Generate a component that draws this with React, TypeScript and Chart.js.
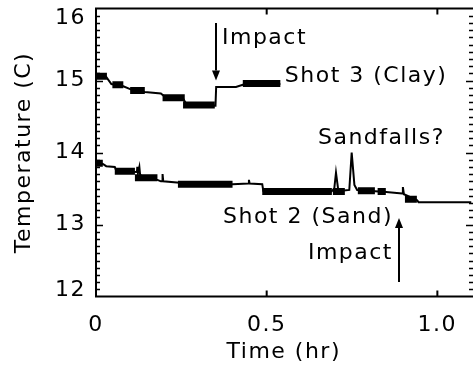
import { useEffect, useRef } from 'react';
import { Chart, registerables } from 'chart.js';

Chart.register(...registerables);

const FONT = '"DejaVu Sans", sans-serif';

// Axis ranges and tick labels
const timeMin = 0;
const timeMax = 1.1;
const tempMin = 12;
const tempMax = 16;
const timeTicks = [0, 0.5, 1.0];
const timeTickLabels = ['0', '0.5', '1.0'];
const tempTicks = [12, 13, 14, 15, 16];
const tempTickLabels = ['12', '13', '14', '15', '16'];
const tempMinorStep = 0.1;

// Shot 3 (Clay): logged temperature trace
const clayTime = [0, 0.03, 0.045, 0.08, 0.1, 0.143, 0.19, 0.2, 0.255, 0.265, 0.35, 0.352, 0.41, 0.43, 0.54];
const clayTemp = [15.07, 15.05, 14.95, 14.92, 14.88, 14.84, 14.82, 14.78, 14.75, 14.67, 14.65, 14.91, 14.91, 14.94, 14.95];
// Shot 3 (Clay): stretches where the reading flickers around a level
const clayBandStart = [0, 0.048, 0.1, 0.195, 0.255, 0.43];
const clayBandEnd = [0.032, 0.08, 0.143, 0.26, 0.348, 0.54];
const clayBandTemp = [15.06, 14.94, 14.86, 14.76, 14.66, 14.96];

// Shot 2 (Sand): logged temperature trace
const sandTime = [
  0, 0.02, 0.03, 0.055, 0.06, 0.12, 0.121, 0.123, 0.127, 0.129, 0.135, 0.18, 0.19, 0.194, 0.195, 0.197,
  0.245, 0.4, 0.447, 0.448, 0.45, 0.487, 0.49, 0.69, 0.698, 0.703, 0.709, 0.72, 0.742, 0.749, 0.757,
  0.765, 0.85, 0.897, 0.899, 0.902, 0.94, 0.945, 1.1,
];
const sandTemp = [
  13.86, 13.84, 13.81, 13.8, 13.74, 13.73, 13.8, 13.72, 13.8, 13.7, 13.65, 13.62, 13.6, 13.6, 13.7, 13.6,
  13.58, 13.56, 13.57, 13.62, 13.57, 13.56, 13.47, 13.46, 13.5, 13.72, 13.5, 13.47, 13.48, 14.0, 13.55,
  13.48, 13.45, 13.43, 13.52, 13.42, 13.34, 13.31, 13.31,
];
// Shot 2 (Sand): stretches where the reading flickers around a level
const sandBandStart = [0, 0.055, 0.114, 0.24, 0.487, 0.694, 0.767, 0.825, 0.905];
const sandBandEnd = [0.02, 0.114, 0.18, 0.4, 0.691, 0.729, 0.817, 0.849, 0.94];
const sandBandTemp = [13.85, 13.74, 13.65, 13.56, 13.46, 13.46, 13.47, 13.46, 13.35];

// Impact times and arrow spans (hr, °C)
const clayImpact = { t: 0.351, from: 15.8, to: 15.0 };
const sandImpact = { t: 0.888, from: 12.2, to: 13.09 };

// Text notes placed in data coordinates
const notes = [
  { text: 'Impact', t: 0.369, temp: 15.59, align: 'left' },
  { text: 'Shot 3 (Clay)', t: 0.553, temp: 15.06, align: 'left' },
  { text: 'Sandfalls?', t: 1.022, temp: 14.2, align: 'right' },
  { text: 'Shot 2 (Sand)', t: 0.87, temp: 13.1, align: 'right' },
  { text: 'Impact', t: 0.87, temp: 12.6, align: 'right' },
];

const xTitle = 'Time (hr)';
const yTitle = 'Temperature (C)';

const toPoints = (xs: number[], ys: number[]) => xs.map((x, i) => ({ x, y: ys[i] }));

const toBands = (starts: number[], ends: number[], levels: number[]) => {
  const pts: { x: number; y: number | null }[] = [];
  starts.forEach((s, i) => {
    pts.push({ x: s, y: levels[i] }, { x: ends[i], y: levels[i] }, { x: ends[i], y: null });
  });
  return pts;
};

const drawArrow = (ctx: CanvasRenderingContext2D, x: number, y0: number, y1: number) => {
  const dir = y1 > y0 ? 1 : -1;
  const head = 10;
  ctx.beginPath();
  ctx.moveTo(x, y0);
  ctx.lineTo(x, y1 - dir * head);
  ctx.stroke();
  ctx.beginPath();
  ctx.moveTo(x, y1);
  ctx.lineTo(x - 4, y1 - dir * head);
  ctx.lineTo(x + 4, y1 - dir * head);
  ctx.closePath();
  ctx.fill();
};

const framePlugin = {
  id: 'frame',
  afterDraw(chart: any) {
    const { ctx, chartArea: a, scales } = chart;
    const xs = scales.x;
    const ys = scales.y;
    const W = chart.width;
    ctx.save();
    ctx.strokeStyle = '#000';
    ctx.fillStyle = '#000';
    ctx.lineCap = 'butt';
    ctx.lineWidth = 2;

    // frame lines: left, bottom, top
    ctx.beginPath();
    ctx.moveTo(a.left, a.top - 0.5);
    ctx.lineTo(a.left, a.bottom + 1);
    ctx.moveTo(a.left - 1, a.bottom);
    ctx.lineTo(W, a.bottom);
    ctx.moveTo(a.left - 1, a.top);
    ctx.lineTo(W, a.top);
    ctx.stroke();

    // y ticks, both sides
    const nMinor = Math.round((tempMax - tempMin) / tempMinorStep);
    for (let i = 1; i < nMinor; i++) {
      const v = tempMin + i * tempMinorStep;
      const py = Math.round(ys.getPixelForValue(v)) + 0.5;
      const major = tempTicks.some((t) => Math.abs(t - v) < 1e-6);
      const len = major ? 7 : 4;
      ctx.lineWidth = 1.6;
      ctx.beginPath();
      ctx.moveTo(a.left, py);
      ctx.lineTo(a.left + len, py);
      ctx.moveTo(a.right + 1.5, py);
      ctx.lineTo(a.right + 1.5 - len, py);
      ctx.stroke();
    }

    // x ticks, top and bottom
    ctx.lineWidth = 2;
    timeTicks.forEach((t) => {
      if (t === timeMin) return;
      const px = xs.getPixelForValue(t);
      ctx.beginPath();
      ctx.moveTo(px, a.bottom);
      ctx.lineTo(px, a.bottom - 6);
      ctx.moveTo(px, a.top);
      ctx.lineTo(px, a.top + 6);
      ctx.stroke();
    });

    // labels
    ctx.font = `22px ${FONT}`;
    (ctx as any).letterSpacing = '1.5px';
    ctx.textBaseline = 'middle';

    ctx.textAlign = 'right';
    tempTicks.forEach((v, i) => {
      const py = ys.getPixelForValue(v);
      const cy = Math.min(Math.max(py, a.top + 9.5), a.bottom - 6.5);
      ctx.fillText(tempTickLabels[i], 86, cy);
    });

    ctx.textAlign = 'center';
    timeTicks.forEach((t, i) => {
      ctx.fillText(timeTickLabels[i], xs.getPixelForValue(t), 325);
    });

    ctx.fillText(xTitle, (a.left + a.right) / 2, 352);
    ctx.save();
    ctx.translate(24, (a.top + a.bottom) / 2);
    ctx.rotate(-Math.PI / 2);
    ctx.fillText(yTitle, 0, 0);
    ctx.restore();

    // notes
    notes.forEach((n) => {
      ctx.textAlign = n.align as CanvasTextAlign;
      ctx.fillText(n.text, xs.getPixelForValue(n.t), ys.getPixelForValue(n.temp));
    });

    // impact arrows
    ctx.lineWidth = 2;
    [clayImpact, sandImpact].forEach((im) => {
      const px = Math.round(xs.getPixelForValue(im.t));
      drawArrow(ctx, px, ys.getPixelForValue(im.from), ys.getPixelForValue(im.to));
    });

    ctx.restore();
  },
};

export default function App() {
  const canvasRef = useRef<HTMLCanvasElement | null>(null);

  useEffect(() => {
    const canvas = canvasRef.current;
    if (!canvas) return;
    const traceStyle = {
      borderColor: '#000',
      pointRadius: 0,
      tension: 0,
      fill: false,
    };
    const chart = new Chart(canvas, {
      type: 'line',
      data: {
        datasets: [
          { ...traceStyle, label: 'Shot 3 (Clay)', data: toPoints(clayTime, clayTemp), borderWidth: 2 },
          {
            ...traceStyle,
            label: 'Shot 3 (Clay) flicker',
            data: toBands(clayBandStart, clayBandEnd, clayBandTemp),
            borderWidth: 7,
            borderCapStyle: 'butt',
            spanGaps: false,
          },
          { ...traceStyle, label: 'Shot 2 (Sand)', data: toPoints(sandTime, sandTemp), borderWidth: 2 },
          {
            ...traceStyle,
            label: 'Shot 2 (Sand) flicker',
            data: toBands(sandBandStart, sandBandEnd, sandBandTemp),
            borderWidth: 7,
            borderCapStyle: 'butt',
            spanGaps: false,
          },
        ] as any,
      },
      options: {
        animation: false,
        responsive: false,
        events: [],
        layout: { padding: { left: 0, right: 1.5, top: 8.5, bottom: 0 } },
        plugins: { legend: { display: false }, tooltip: { enabled: false } },
        scales: {
          x: {
            type: 'linear',
            min: timeMin,
            max: timeMax,
            grid: { display: false },
            border: { display: false },
            ticks: { display: false },
            afterFit: (s: any) => {
              s.height = 74.5;
              s.paddingLeft = 0;
              s.paddingRight = 0;
            },
          },
          y: {
            type: 'linear',
            min: tempMin,
            max: tempMax,
            grid: { display: false },
            border: { display: false },
            ticks: { display: false },
            afterFit: (s: any) => {
              s.width = 96;
              s.paddingTop = 0;
              s.paddingBottom = 0;
            },
          },
        },
      },
      plugins: [framePlugin],
    });
    return () => chart.destroy();
  }, []);

  return (
    <div style={{ position: 'absolute', left: 0, top: 0, width: 473, height: 371, background: '#fff' }}>
      <canvas ref={canvasRef} width={473} height={371} style={{ display: 'block' }} />
    </div>
  );
}
